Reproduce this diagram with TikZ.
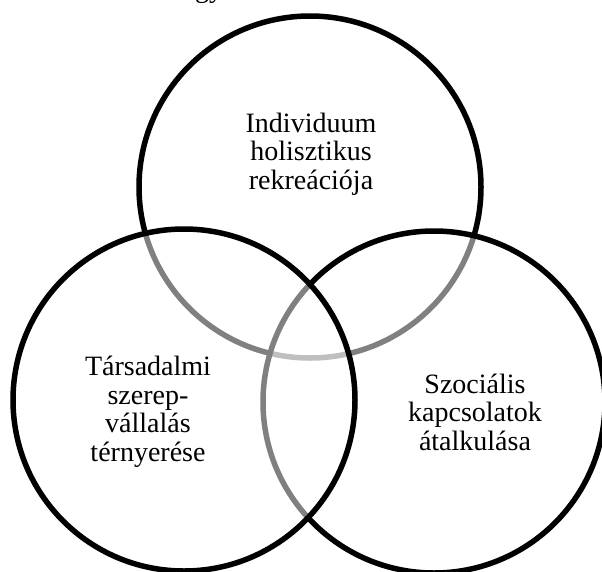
\documentclass[tikz,border=0pt]{standalone}
\usepackage{fontspec}
\setmainfont{Liberation Serif}
\usepackage{tikz}

\begin{document}
\begin{tikzpicture}[x=1pt, y=-1pt,
% common options for the circles:
ring/.style = {circle, draw=black, line width=5.5pt, fill=white, fill opacity=0.5,
            minimum size=342pt, inner sep=0},
% common options for the texts:
lbl/.style = {align=center, anchor=base, inner sep=0,
            font=\fontsize{28}{28.5}\selectfont}]
\useasboundingbox (0,0) rectangle (602,571);
\node[anchor=base west, inner sep=0, font=\fontsize{28}{28.5}\selectfont] (G) at (195,-3) {gy};
\node[ring] (C1) at (310,187) {};
\node[ring] (C3) at (434,402) {};
\node[ring] (C2) at (184,400) {};
\node[lbl] (T1) at (311,189) {Individuum\\holisztikus\\rekreációja};
\node[lbl] (T2) at (148,461) {Társadalmi\\szerep-\\vállalás\\térnyerése};
\node[lbl] (T3) at (475,450) {Szociális\\kapcsolatok\\átalkulása};
\end{tikzpicture}
\end{document}
